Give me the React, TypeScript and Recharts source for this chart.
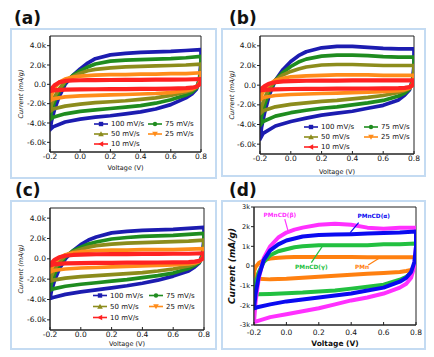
import React from 'react';
import { LineChart, Line, XAxis, YAxis, ReferenceArea, Legend, ReferenceLine, ReferenceDot } from 'recharts';

// ---------- shared sweep path (forward then reverse) ----------
const voltagePath = [-0.2, -0.19, -0.17, -0.14, -0.1, -0.05, 0, 0.05, 0.1, 0.2, 0.3, 0.4, 0.5, 0.6, 0.7, 0.8, 0.8, 0.79, 0.77, 0.74, 0.7, 0.6, 0.5, 0.4, 0.3, 0.2, 0.1, 0, -0.1, -0.18, -0.2];

const xTicks = [-0.2, 0, 0.2, 0.4, 0.6, 0.8];
const xTickLabels = ['-0.2', '0.0', '0.2', '0.4', '0.6', '0.8'];
const yTicksABC = [-6000, -4000, -2000, 0, 2000, 4000];
const yTickLabelsABC = ['-6.0k', '-4.0k', '-2.0k', '0.0', '2.0k', '4.0k'];
const yTicksD = [-3000, -2000, -1000, 0, 1000, 2000, 3000];
const yTickLabelsD = ['-3k', '-2k', '-1k', '0', '1k', '2k', '3k'];

const rateLabels = ['100 mV/s', '75 mV/s', '50 mV/s', '25 mV/s', '10 mV/s'];
const rateColors = ['#1c1cb0', '#1f8c1f', '#8c8c1c', '#ff8c1a', '#ff2222'];
const rateMarkers = ['square', 'circle', 'up', 'down', 'left'];

// ---------- panel (a) ----------
const a100 = [-4700, -3800, -2600, -1300, 0, 900, 1600, 2200, 2650, 3050, 3200, 3300, 3350, 3400, 3500, 3600, 2400, 600, -500, -1000, -1400, -2100, -2550, -2850, -3050, -3250, -3400, -3600, -3900, -4400, -4700];
const a75 = [-3650, -2800, -1800, -800, 200, 900, 1400, 1800, 2100, 2400, 2500, 2550, 2600, 2650, 2750, 2900, 1800, 400, -400, -800, -1100, -1600, -1950, -2200, -2350, -2500, -2650, -2800, -3050, -3400, -3650];
const a50 = [-2800, -2100, -1300, -500, 300, 800, 1150, 1400, 1550, 1700, 1800, 1850, 1900, 1950, 2000, 2100, 1300, 300, -300, -600, -800, -1150, -1400, -1550, -1700, -1800, -1900, -2050, -2250, -2550, -2800];
const a25 = [-1700, -1100, -400, 200, 550, 750, 850, 900, 950, 1000, 1000, 1050, 1050, 1100, 1100, 1200, 700, 100, -250, -500, -650, -850, -950, -1000, -1050, -1100, -1150, -1200, -1300, -1500, -1700];
const a10 = [-700, -450, -100, 200, 350, 400, 420, 430, 440, 450, 460, 470, 480, 490, 500, 550, 300, 0, -250, -350, -400, -450, -470, -480, -490, -500, -510, -520, -550, -620, -700];

// ---------- panel (b) ----------
const b100 = [-5500, -4300, -2800, -1000, 500, 1600, 2400, 3000, 3400, 3800, 3950, 3950, 3850, 3750, 3700, 3700, 2000, 500, -500, -1000, -1500, -2050, -2350, -2650, -2850, -3050, -3350, -3700, -4150, -4900, -5500];
const b75 = [-4100, -3200, -2000, -600, 500, 1300, 1900, 2350, 2650, 2950, 3050, 3050, 3000, 2900, 2850, 2850, 1500, 300, -400, -800, -1100, -1550, -1800, -2000, -2200, -2350, -2550, -2800, -3150, -3700, -4100];
const b50 = [-2900, -2200, -1300, -300, 500, 1050, 1400, 1650, 1850, 2050, 2100, 2100, 2050, 2000, 2000, 2000, 1000, 200, -300, -550, -750, -1050, -1250, -1400, -1550, -1650, -1800, -1950, -2200, -2600, -2900];
const b25 = [-1500, -1000, -400, 100, 500, 700, 850, 900, 950, 1000, 1050, 1050, 1050, 1000, 1000, 1000, 500, 0, -300, -450, -550, -650, -700, -750, -800, -850, -900, -950, -1050, -1250, -1500];
const b10 = [-550, -350, -100, 150, 300, 380, 420, 440, 450, 460, 470, 480, 480, 480, 490, 500, 250, 0, -200, -270, -300, -330, -340, -350, -360, -370, -380, -390, -420, -480, -550];

// ---------- panel (c) ----------
const c100 = [-3900, -3100, -2100, -1000, 0, 800, 1400, 1850, 2150, 2550, 2700, 2800, 2850, 2900, 3000, 3100, 2000, 500, -400, -800, -1200, -1700, -2100, -2400, -2650, -2850, -3050, -3250, -3500, -3800, -3900];
const c75 = [-3100, -2400, -1500, -600, 200, 800, 1150, 1450, 1650, 1950, 2100, 2200, 2250, 2300, 2400, 2500, 1500, 300, -350, -650, -950, -1400, -1650, -1850, -2050, -2200, -2350, -2500, -2700, -2950, -3100];
const c50 = [-2200, -1700, -1000, -300, 300, 700, 950, 1150, 1300, 1450, 1550, 1600, 1650, 1700, 1750, 1850, 1000, 200, -250, -500, -700, -1000, -1200, -1350, -1450, -1550, -1650, -1750, -1900, -2100, -2200];
const c25 = [-1300, -900, -400, 100, 400, 600, 700, 750, 800, 850, 850, 900, 900, 900, 950, 1000, 500, 0, -250, -400, -500, -600, -650, -700, -750, -800, -850, -900, -1000, -1150, -1300];
const c10 = [-650, -400, -100, 150, 300, 380, 420, 440, 450, 460, 470, 480, 490, 500, 500, 550, 300, 0, -200, -280, -320, -350, -360, -370, -380, -390, -400, -420, -450, -550, -650];

// ---------- panel (d) ----------
const dNames = ['PMn', 'PMnCD(γ)', 'PMnCD(β)', 'PMnCD(α)'];
const dColors = ['#ff8010', '#22c040', '#ff30ff', '#0a0af0'];
const dPMn = [-300, -50, 150, 300, 380, 420, 450, 460, 460, 460, 460, 460, 450, 450, 450, 450, 100, -50, -200, -250, -300, -350, -400, -450, -500, -550, -600, -650, -680, -650, -300];
const dGamma = [-1450, -900, -300, 200, 550, 750, 850, 950, 1000, 1050, 1050, 1050, 1050, 1100, 1100, 1150, 600, 0, -350, -550, -700, -950, -1050, -1150, -1250, -1300, -1350, -1380, -1420, -1440, -1450];
const dBeta = [-2850, -1800, -600, 400, 1000, 1450, 1700, 1850, 1950, 2100, 2150, 2100, 1950, 1900, 1950, 1950, 1000, 0, -600, -900, -1100, -1400, -1600, -1750, -1950, -2150, -2300, -2450, -2600, -2800, -2850];
const dAlpha = [-2150, -1400, -500, 300, 800, 1100, 1300, 1400, 1500, 1580, 1600, 1620, 1650, 1680, 1700, 1750, 1000, 200, -300, -600, -800, -1100, -1250, -1400, -1500, -1600, -1700, -1800, -1950, -2100, -2150];

// annotation text anchor (V, I) and leader segments for panel (d)
const dLabelPos = [[0.467, -50], [0.154, -50], [-0.04, 2570], [0.539, 2550]];
const dLeader = [
  [[0.505, 50], [0.577, 420]],
  [[0.154, 170], [0.23, 1100]],
  [[-0.01, 2380], [0.01, 1790]],
  [[0.446, 2210], [0.394, 1700]],
];

const FONT = 'DejaVu Sans';
const toPoints = (vals: number[]) => voltagePath.map((v, i) => ({ v, c: vals[i] }));

const YTitle = (props: any) => {
  const vb = props.viewBox || { x: 0, y: 0, width: 0, height: 0 };
  const cx = vb.x + props.tx;
  const cy = vb.y + vb.height / 2;
  return (
    <text x={cx} y={cy} transform={`rotate(-90, ${cx}, ${cy})`} textAnchor="middle" dominantBaseline="central"
      fontSize={props.fs} fontWeight={props.fw || 'normal'} fontStyle="italic" fontFamily={FONT} fill="#111">
      {props.text}
    </text>
  );
};

const XTitle = (props: any) => {
  const vb = props.viewBox || { x: 0, y: 0, width: 0, height: 0 };
  return (
    <text x={vb.x + vb.width / 2} y={vb.y + props.ty} textAnchor="middle" dominantBaseline="central"
      fontSize={props.fs} fontWeight={props.fw || 'normal'} fontFamily={FONT} fill="#111">
      {props.text}
    </text>
  );
};

const Marker = ({ kind, color, x, y }: any) => {
  const s = 2.2;
  if (kind === 'square') return <rect x={x - s} y={y - s} width={2 * s} height={2 * s} fill={color} />;
  if (kind === 'circle') return <circle cx={x} cy={y} r={s} fill={color} />;
  if (kind === 'up') return <polygon points={`${x},${y - s - 0.6} ${x - s - 0.6},${y + s} ${x + s + 0.6},${y + s}`} fill={color} />;
  if (kind === 'down') return <polygon points={`${x},${y + s + 0.6} ${x - s - 0.6},${y - s} ${x + s + 0.6},${y - s}`} fill={color} />;
  return <polygon points={`${x - s - 0.6},${y} ${x + s},${y - s - 0.6} ${x + s},${y + s + 0.6}`} fill={color} />;
};

const RateLegend = ({ colGap, rowGap }: any) => (
  <svg width={150} height={rowGap * 3} style={{ overflow: 'visible', display: 'block' }}>
    {rateLabels.map((lab, i) => {
      const col = i % 2;
      const row = Math.floor(i / 2);
      const x0 = col * colGap;
      const y0 = row * rowGap + rowGap / 2;
      return (
        <g key={lab}>
          <line x1={x0} x2={x0 + 14} y1={y0} y2={y0} stroke={rateColors[i]} strokeWidth={1.6} />
          <Marker kind={rateMarkers[i]} color={rateColors[i]} x={x0 + 7} y={y0} />
          <text x={x0 + 17} y={y0} dominantBaseline="central" fontSize={7} fontFamily={FONT} fill="#111">{lab}</text>
        </g>
      );
    })}
  </svg>
);

type PanelCfg = {
  left: number; top: number; width: number; height: number;
  mTop: number; mRight: number; yW: number; xH: number;
  yDomain: [number, number]; yTicks: number[]; yLabels: string[];
  series: { vals: number[]; color: string; name: string; w: number }[];
  yTitleX: number; xTitleY: number; xTickMargin: number;
  yTitleFs: number; xTitleFs: number; yTickFs: number; xTickFs: number; titleFw?: string;
  legend?: { x: number; y: number; colGap: number; rowGap: number };
  annotate?: boolean;
};

const Panel = (p: PanelCfg) => (
  <div style={{ position: 'absolute', left: p.left, top: p.top, width: p.width, height: p.height }}>
    <LineChart width={p.width} height={p.height} margin={{ top: p.mTop, right: p.mRight, bottom: 0, left: 0 }}
      style={{ fontFamily: FONT }}>
      <XAxis type="number" dataKey="v" domain={[-0.2, 0.8]} ticks={xTicks} allowDataOverflow
        tickFormatter={(v: number) => xTickLabels[xTicks.findIndex((t) => Math.abs(t - v) < 1e-9)] ?? String(v)}
        height={p.xH} tickSize={-3} tickMargin={p.xTickMargin} interval={0}
        axisLine={{ stroke: '#222' }} tickLine={{ stroke: '#222' }}
        tick={{ fontSize: p.xTickFs, fill: '#111', fontFamily: FONT }}
        label={<XTitle text="Voltage (V)" ty={p.xTitleY} fs={p.xTitleFs} fw={p.titleFw} />} />
      <YAxis type="number" domain={p.yDomain} ticks={p.yTicks} allowDataOverflow interval={0}
        tickFormatter={(v: number) => p.yLabels[p.yTicks.indexOf(v)] ?? String(v)}
        width={p.yW} tickSize={3} tickMargin={1}
        axisLine={{ stroke: '#222' }} tickLine={{ stroke: '#222' }}
        tick={{ fontSize: p.yTickFs, fill: '#111', fontFamily: FONT }}
        label={<YTitle text="Current (mA/g)" tx={p.yTitleX} fs={p.yTitleFs} fw={p.titleFw} />} />
      <ReferenceArea x1={-0.2} x2={0.8} y1={p.yDomain[0]} y2={p.yDomain[1]} fill="none" fillOpacity={0}
        stroke="#222" strokeWidth={1} />
      {p.series.map((s) => (
        <Line key={s.name} data={toPoints(s.vals)} dataKey="c" name={s.name} type="linear" stroke={s.color}
          strokeWidth={s.w} dot={false} activeDot={false} isAnimationActive={false}
          strokeLinejoin="round" strokeLinecap="round" legendType="none" />
      ))}
      {p.annotate && dLeader.map((seg, i) => (
        <ReferenceLine key={'l' + i} segment={[{ x: seg[0][0], y: seg[0][1] }, { x: seg[1][0], y: seg[1][1] }]}
          stroke={dColors[i]} strokeWidth={1.2} />
      ))}
      {p.annotate && dLabelPos.map((pos, i) => (
        <ReferenceDot key={'t' + i} x={pos[0]} y={pos[1]} r={0}
          shape={(sp: any) => (
            <text x={sp.cx} y={sp.cy} textAnchor="middle" dominantBaseline="central" fontSize={5.8}
              fontWeight="bold" fontFamily={FONT} fill={dColors[i]}>{dNames[i]}</text>
          )} />
      ))}
      {p.legend && (
        <Legend layout="horizontal" verticalAlign="middle" align="center"
          wrapperStyle={{ left: p.legend.x, top: p.legend.y - p.legend.rowGap / 2, width: 150, height: p.legend.rowGap * 3 }}
          content={() => <RateLegend colGap={p.legend!.colGap} rowGap={p.legend!.rowGap} />} />
      )}
    </LineChart>
  </div>
);

const rateSeries = (arrs: number[][]) => arrs.map((vals, i) => ({ vals, color: rateColors[i], name: rateLabels[i], w: i === 4 ? 4.2 : 3.7 }));

const boxStyle = (l: number, t: number, w: number, h: number): React.CSSProperties => ({
  position: 'absolute', left: l, top: t, width: w, height: h, boxSizing: 'border-box',
  border: '2px solid #c4dbf2',
});

const labelStyle = (l: number, t: number): React.CSSProperties => ({
  position: 'absolute', left: l, top: t, fontFamily: FONT, fontSize: 17, fontWeight: 'bold', lineHeight: '17px', color: '#111',
});

export default function App() {
  return (
    <div style={{ position: 'absolute', left: 0, top: 0, width: 434, height: 357, background: '#fff', overflow: 'hidden' }}>
      <div style={boxStyle(10, 28, 207, 151)} />
      <div style={boxStyle(221, 28, 205, 149)} />
      <div style={boxStyle(10, 200, 207, 150)} />
      <div style={boxStyle(221, 200, 205, 150)} />
      <div style={labelStyle(14, 10)}>(a)</div>
      <div style={labelStyle(229, 10)}>(b)</div>
      <div style={labelStyle(15, 182)}>(c)</div>
      <div style={labelStyle(229, 182)}>(d)</div>

      <Panel left={11} top={29} width={205} height={150} mTop={7} mRight={15} yW={39} xH={27}
        yDomain={[-7000, 5000]} yTicks={yTicksABC} yLabels={yTickLabelsABC}
        series={rateSeries([a100, a75, a50, a25, a10])}
        yTitleX={10} xTitleY={16} xTickMargin={4.5} yTitleFs={6.5} xTitleFs={6.5} yTickFs={7.5} xTickFs={7.5}
        legend={{ x: 83, y: 95, colGap: 54, rowGap: 10 }} />

      <Panel left={222} top={29} width={203} height={147} mTop={7} mRight={11} yW={38} xH={22}
        yDomain={[-7000, 5000]} yTicks={yTicksABC} yLabels={yTickLabelsABC}
        series={rateSeries([b100, b75, b50, b25, b10])}
        yTitleX={10} xTitleY={17.5} xTickMargin={4.5} yTitleFs={6.5} xTitleFs={6.5} yTickFs={7.5} xTickFs={7.5}
        legend={{ x: 82, y: 97.5, colGap: 60, rowGap: 10 }} />

      <Panel left={11} top={201} width={205} height={148} mTop={7} mRight={12} yW={39} xH={19}
        yDomain={[-7000, 5000]} yTicks={yTicksABC} yLabels={yTickLabelsABC}
        series={rateSeries([c100, c75, c50, c25, c10])}
        yTitleX={10} xTitleY={13.7} xTickMargin={4.5} yTitleFs={6.5} xTitleFs={6.5} yTickFs={7.5} xTickFs={7.5}
        legend={{ x: 82, y: 94, colGap: 56, rowGap: 11 }} />

      <Panel left={222} top={201} width={203} height={148} mTop={6} mRight={9} yW={32} xH={24}
        yDomain={[-3000, 3000]} yTicks={yTicksD} yLabels={yTickLabelsD}
        series={[dPMn, dGamma, dBeta, dAlpha].map((vals, i) => ({ vals, color: dColors[i], name: dNames[i], w: 4 }))}
        yTitleX={10} xTitleY={18} xTickMargin={7.5} yTitleFs={9} xTitleFs={7.5} yTickFs={6.5} xTickFs={7.5} titleFw="bold"
        annotate />
    </div>
  );
}
